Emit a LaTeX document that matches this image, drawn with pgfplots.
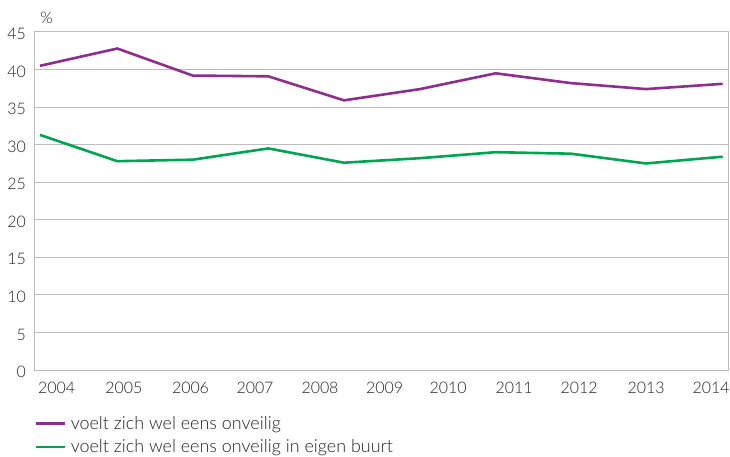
\documentclass[border=0pt]{standalone}
\usepackage{fontspec}
\setmainfont{Lato}[UprightFont=* Light]
\usepackage{pgfplots}
\pgfplotsset{compat=1.18}
\definecolor{paars}{HTML}{8E2D8E}
\definecolor{groen}{HTML}{00A550}
\definecolor{raster}{HTML}{BDBDBD}
\definecolor{tekst}{HTML}{222222}

\begin{document}
\begin{tikzpicture}
\useasboundingbox (-34bp,-87bp) rectangle (696bp,370bp);
\begin{axis}[
  at={(0,0)}, anchor=south west,
  scale only axis, width=694bp, height=338bp,
  xmin=34, xmax=728, ymin=0, ymax=45,
  ytick={0,5,...,45},
  xtick={56.7,123.8,190.5,255,320,384.5,448,514,579,646,711},
  xticklabels={2004,2005,2006,2007,2008,2009,2010,2011,2012,2013,2014},
  major tick length=0pt,
  ymajorgrids, grid style={raster, line width=1bp},
  axis line style={raster, line width=1bp},
  tick label style={font=\fontsize{16}{19}\selectfont, text=tekst, inner sep=0pt},
  /pgf/number format/assume math mode=true,
  yticklabel style={xshift=-8bp, yshift=-2bp},
  xticklabel style={yshift=-12bp},
  clip=false,
  legend cell align=left,
  legend style={at={(axis description cs:0,0)}, anchor=north west,
    xshift=1bp, yshift=-44bp, draw=none, fill=none, inner sep=0pt,
    font=\fontsize{18}{21}\selectfont, text=tekst, row sep=5bp},
  legend image code/.code={\draw[#1, line width=2.6bp] (0bp,0bp) -- (29bp,0bp);},
]
\addplot[paars, line width=2.6bp] coordinates {
  (40,40.5) (117.3,42.8) (192.7,39.2) (268.3,39.1) (344,35.9)
  (420,37.4) (495.7,39.5) (570.7,38.2) (646,37.4) (722.7,38.1)
};
\addlegendentry{\hspace{2bp}voelt zich wel eens onveilig}
\addplot[groen, line width=2.6bp] coordinates {
  (40,31.3) (117.3,27.8) (192.7,28.0) (268.3,29.5) (344,27.6)
  (420,28.2) (495.7,29.0) (570.7,28.8) (646,27.5) (722.7,28.4)
};
\addlegendentry{\hspace{2bp}voelt zich wel eens onveilig in eigen buurt}
\node[font=\fontsize{16}{19}\selectfont, text=tekst, inner sep=0pt]
  at (axis description cs:0,1) [xshift=12.7bp, yshift=14bp] {\%};
\end{axis}
\end{tikzpicture}
\end{document}
